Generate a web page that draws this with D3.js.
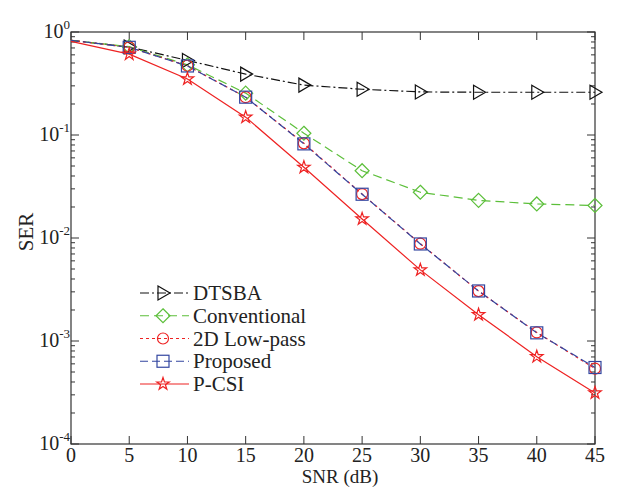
<!DOCTYPE html>
<html>
<head>
<meta charset="utf-8">
<script src="https://cdn.jsdelivr.net/npm/d3@7"></script>
<style>
  body { margin: 0; background: #fff; }
  text { font-family: "Liberation Serif", "DejaVu Serif", serif; fill: #222; }
</style>
</head>
<body>
<div id="chart"></div>
<script>
const snr = [0, 5, 10, 15, 20, 25, 30, 35, 40, 45];

const dtsba = [0.83, 0.715, 0.53, 0.39, 0.305, 0.278, 0.262, 0.26, 0.26, 0.26];
const conventional = [0.83, 0.72, 0.48, 0.255, 0.104, 0.045, 0.0278, 0.0232, 0.0214, 0.0207];
const lowpass2d = [0.83, 0.71, 0.47, 0.233, 0.083, 0.0267, 0.0088, 0.00305, 0.00121, 0.00054];
const proposed = [0.83, 0.71, 0.468, 0.233, 0.082, 0.0266, 0.00875, 0.00306, 0.0012, 0.000553];
const pcsi = [0.81, 0.61, 0.35, 0.149, 0.0486, 0.0153, 0.0049, 0.0018, 0.000705, 0.000313];

const xTicks = [0, 5, 10, 15, 20, 25, 30, 35, 40, 45];
const yTickExps = [0, -1, -2, -3, -4];

const series = [
  { name: 'DTSBA', values: dtsba, color: '#111', dash: '9,3,2,3', marker: 'tri' },
  { name: 'Conventional', values: conventional, color: '#5cbf3a', dash: '9,5', marker: 'diamond' },
  { name: '2D Low-pass', values: lowpass2d, color: '#ee2222', dash: '3,3', marker: 'circle' },
  { name: 'Proposed', values: proposed, color: '#3346a0', dash: '8,4', marker: 'square' },
  { name: 'P-CSI', values: pcsi, color: '#ee2222', dash: null, marker: 'star' }
];

const width = 617, height = 488;
const margin = { left: 71, right: 22, top: 32, bottom: 44 };

const svg = d3.select('#chart').append('svg')
  .attr('width', width)
  .attr('height', height);

const x = d3.scaleLinear()
  .domain([0, 45])
  .range([margin.left, width - margin.right]);

const y = d3.scaleLog()
  .domain([1e-4, 1])
  .range([height - margin.bottom, margin.top]);

const axisColor = '#333';

// minor + major y ticks on both sides
const minor = [];
for (let e = -4; e < 0; e++) {
  for (let k = 2; k <= 9; k++) minor.push(k * Math.pow(10, e));
}
const g = svg.append('g');

[margin.left, width - margin.right].forEach((sx, i) => {
  const dir = i === 0 ? 1 : -1;
  g.selectAll(null).data(minor).enter().append('line')
    .attr('x1', sx).attr('x2', sx + dir * 4)
    .attr('y1', d => y(d)).attr('y2', d => y(d))
    .attr('stroke', axisColor).attr('stroke-width', 1);
  g.selectAll(null).data(yTickExps).enter().append('line')
    .attr('x1', sx).attr('x2', sx + dir * 8)
    .attr('y1', d => y(Math.pow(10, d))).attr('y2', d => y(Math.pow(10, d)))
    .attr('stroke', axisColor).attr('stroke-width', 1);
});

[height - margin.bottom, margin.top].forEach((sy, i) => {
  const dir = i === 0 ? -1 : 1;
  g.selectAll(null).data(xTicks).enter().append('line')
    .attr('x1', d => x(d)).attr('x2', d => x(d))
    .attr('y1', sy).attr('y2', sy + dir * 8)
    .attr('stroke', axisColor).attr('stroke-width', 1);
});

g.append('rect')
  .attr('x', margin.left).attr('y', margin.top)
  .attr('width', width - margin.left - margin.right)
  .attr('height', height - margin.top - margin.bottom)
  .attr('fill', 'none')
  .attr('stroke', axisColor)
  .attr('stroke-width', 1.2);

// tick labels
svg.selectAll('.xlab').data(xTicks).enter().append('text')
  .attr('class', 'xlab')
  .attr('x', d => x(d))
  .attr('y', height - margin.bottom + 18)
  .attr('text-anchor', 'middle')
  .style('font-size', '20px')
  .text(d => d);

const ylab = svg.selectAll('.ylab').data(yTickExps).enter().append('text')
  .attr('class', 'ylab')
  .attr('x', margin.left - 1)
  .attr('y', d => y(Math.pow(10, d)) + 6)
  .attr('text-anchor', 'end')
  .style('font-size', '20px');
ylab.append('tspan').text('10');
ylab.append('tspan')
  .attr('dy', -9)
  .style('font-size', '13px')
  .text(d => d);

// axis titles
svg.append('text')
  .attr('x', 340)
  .attr('y', height - 5)
  .attr('text-anchor', 'middle')
  .style('font-size', '19px')
  .text('SNR (dB)');

svg.append('text')
  .attr('transform', `translate(33, 232) rotate(-90)`)
  .attr('text-anchor', 'middle')
  .style('font-size', '21px')
  .text('SER');

// markers
function drawMarker(sel, type, color, cx, cy) {
  const common = s => s.attr('fill', 'none').attr('stroke', color).attr('stroke-width', 1.2);
  if (type === 'tri') {
    common(sel.append('path').attr('d', `M${cx - 5},${cy - 7}L${cx + 7},${cy}L${cx - 5},${cy + 7}Z`));
  } else if (type === 'diamond') {
    common(sel.append('path').attr('d', `M${cx},${cy - 7}L${cx + 7},${cy}L${cx},${cy + 7}L${cx - 7},${cy}Z`));
  } else if (type === 'circle') {
    common(sel.append('circle').attr('cx', cx).attr('cy', cy).attr('r', 5.5));
  } else if (type === 'square') {
    common(sel.append('rect').attr('x', cx - 6).attr('y', cy - 6).attr('width', 12).attr('height', 12));
  } else if (type === 'star') {
    const sym = d3.symbol().type(d3.symbolStar).size(48)();
    common(sel.append('path').attr('d', sym).attr('transform', `translate(${cx},${cy})`));
  }
}

const line = d3.line()
  .x((d, i) => x(snr[i]))
  .y(d => y(d));

const plot = svg.append('g');
series.forEach(s => {
  plot.append('path')
    .attr('d', line(s.values))
    .attr('fill', 'none')
    .attr('stroke', s.color)
    .attr('stroke-width', 1.2)
    .attr('stroke-dasharray', s.dash);
});
series.forEach(s => {
  s.values.forEach((v, i) => {
    if (i === 0) return;
    drawMarker(plot, s.marker, s.color, x(snr[i]), y(v));
  });
});

// legend
const legend = svg.append('g');
const ly0 = 293, lstep = 22.75;
series.forEach((s, i) => {
  const ly = ly0 + i * lstep;
  legend.append('line')
    .attr('x1', 140).attr('x2', 189)
    .attr('y1', ly).attr('y2', ly)
    .attr('stroke', s.color)
    .attr('stroke-width', 1.2)
    .attr('stroke-dasharray', s.dash);
  drawMarker(legend, s.marker, s.color, 163, ly);
  legend.append('text')
    .attr('x', 193)
    .attr('y', ly + 7)
    .style('font-size', '21px')
    .text(s.name);
});
</script>
</body>
</html>
